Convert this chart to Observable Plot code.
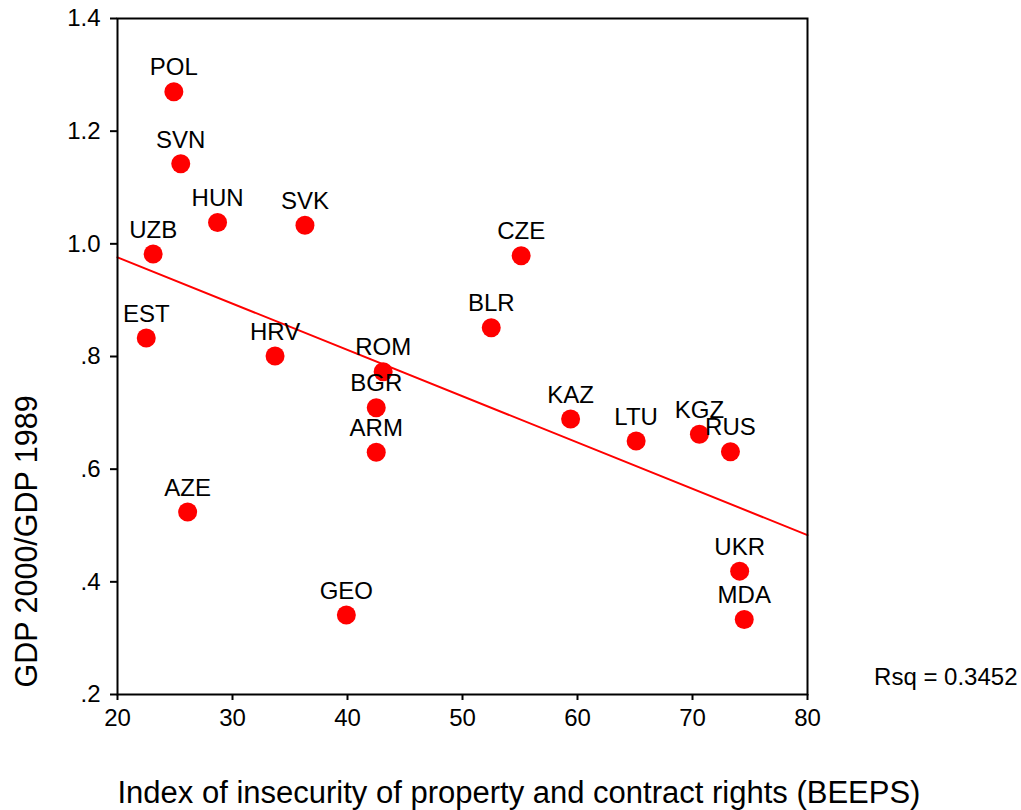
<!DOCTYPE html>
<html>
<head>
<meta charset="utf-8">
<script src="https://cdn.jsdelivr.net/npm/d3@7"></script>
<script src="https://cdn.jsdelivr.net/npm/@observablehq/plot@0.6"></script>
<style>
  html, body { margin: 0; padding: 0; background: #fff; }
  #chart { width: 1021px; height: 810px; }
</style>
</head>
<body>
<div id="chart"></div>
<script>
// Country codes, insecurity index (BEEPS), GDP 2000 / GDP 1989
const countries = ["POL","SVN","HUN","SVK","UZB","EST","HRV","AZE","GEO","ROM","BGR","ARM","BLR","CZE","KAZ","LTU","KGZ","RUS","UKR","MDA"];
const insecurity = [24.9,25.5,28.7,36.3,23.1,22.5,33.7,26.1,39.9,43.1,42.5,42.5,52.5,55.1,59.4,65.1,70.6,73.3,74.1,74.5];
const gdpRatio = [1.270,1.142,1.038,1.033,0.982,0.833,0.801,0.524,0.341,0.773,0.709,0.630,0.851,0.979,0.689,0.650,0.662,0.631,0.419,0.333];

// Fitted regression line endpoints
const fitX = [20, 80];
const fitY = [0.976, 0.483];
const rsqLabel = "Rsq = 0.3452";

const xTicks = [20, 30, 40, 50, 60, 70, 80];
const yTicks = [0.2, 0.4, 0.6, 0.8, 1.0, 1.2, 1.4];
const yTickLabels = [".2", ".4", ".6", ".8", "1.0", "1.2", "1.4"];

const xTitle = "Index of insecurity of property and contract rights (BEEPS)";
const yTitle = "GDP 2000/GDP 1989";

const points = countries.map((c, i) => ({code: c, x: insecurity[i], y: gdpRatio[i]}));
const fit = fitX.map((x, i) => ({x, y: fitY[i]}));

const FONT = "'Liberation Sans', Arial, Helvetica, sans-serif";

const chart = Plot.plot({
  width: 1021,
  height: 810,
  marginLeft: 117,
  marginRight: 214,
  marginTop: 18,
  marginBottom: 116,
  style: {fontFamily: FONT, fontSize: "24px", color: "#000", background: "#fff"},
  x: {domain: [20, 80]},
  y: {domain: [0.2, 1.4]},
  marks: [
    Plot.dot(points, {x: "x", y: "y", r: 9.5, fill: "#ff0000", stroke: "none"}),
    Plot.line(fit, {x: "x", y: "y", stroke: "#ff0000", strokeWidth: 2}),
    Plot.text(points, {x: "x", y: "y", text: "code", dy: -24, fontSize: 24, fill: "#000", textAnchor: "middle", lineAnchor: "middle"}),
    Plot.frame({stroke: "#000", strokeWidth: 2}),
    Plot.axisX({ticks: xTicks, tickSize: 6, tickPadding: 8, fontSize: 24, strokeWidth: 2, label: null, tickFormat: d => String(d)}),
    Plot.axisY({ticks: yTicks, tickSize: 7, tickPadding: 10, fontSize: 24, strokeWidth: 2, label: null,
      tickFormat: d => yTickLabels[yTicks.findIndex(t => Math.abs(t - d) < 1e-9)]}),
    Plot.text([xTitle], {frameAnchor: "bottom-left", textAnchor: "start", lineAnchor: "middle", dx: 0, dy: 99, fontSize: 31, fill: "#000"}),
    Plot.text([yTitle], {frameAnchor: "bottom-left", textAnchor: "start", lineAnchor: "middle", rotate: -90, dx: -90, dy: -7, fontSize: 30.5, fill: "#000"}),
    Plot.text([rsqLabel], {frameAnchor: "bottom-right", textAnchor: "end", lineAnchor: "middle", dx: 210, dy: -17, fontSize: 24, fill: "#000"})
  ]
});
document.getElementById("chart").appendChild(chart);
</script>
</body>
</html>
